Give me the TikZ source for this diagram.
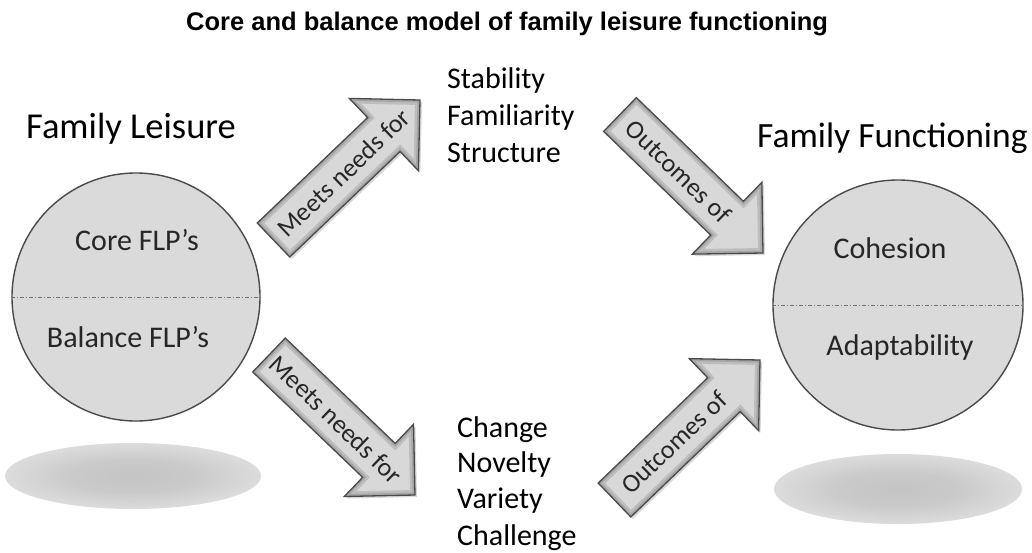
\documentclass[tikz,border=0pt]{standalone}
\usepackage{fontspec}
\setmainfont{Carlito}
\newfontfamily\titlefont{Liberation Sans}
\usetikzlibrary{calc,shadows}
\definecolor{discfill}{HTML}{DADADA}
\definecolor{arrowfill}{HTML}{D8D8D8}
\definecolor{edgecol}{HTML}{4A4A4A}
\pgfdeclareradialshading{discshade}{\pgfpoint{0bp}{0bp}}{color(0bp)=(discfill); color(42bp)=(discfill); color(47bp)=(discfill!85!black); color(50bp)=(discfill!60!black)}
\pgfdeclareradialshading{softshadow}{\pgfpoint{0bp}{0bp}}{color(0bp)=(black!23); color(12bp)=(black!21); color(28bp)=(black!12); color(40bp)=(black!3); color(50bp)=(white)}
\tikzset{
  disc/.style={circle, minimum size=#1, inner sep=0pt, shading=discshade, draw=edgecol, line width=1.4pt},
  divider/.style={draw=black!55, line width=0.7pt, dash pattern=on 4pt off 2pt on 1pt off 2pt},
  floorshadow/.style={shading=softshadow},
  arrowbody/.style={fill=arrowfill, drop shadow={opacity=0.3, shadow xshift=2pt, shadow yshift=-2pt}},
  arrowrim/.style={draw=black, opacity=0.12, line width=#1, line join=miter},
  arrowedge/.style={draw=edgecol, line width=1.3pt, line join=miter},
  bigtxt/.style={font=\fontsize{36.5}{36.5}\selectfont, inner sep=0pt},
  disctxt/.style={font=\fontsize{30}{30}\selectfont, inner sep=0pt, anchor=base, text=black!85},
  listtxt/.style={font=\fontsize{30}{30}\selectfont, inner sep=0pt, anchor=base west},
  arrtxt/.style={font=\fontsize{26}{26}\selectfont, inner sep=0pt, text=black!85, sloped, anchor=center},
}
\newcommand\arrowoutline[3]{($(#1)!23.5pt!90:(#2)$) -- ($(#3b)!23.5pt!90:(#2)$) -- ($(#3b)!50pt!90:(#2)$)
     -- (#2) -- ($(#3b)!50pt!-90:(#2)$) -- ($(#3b)!23.5pt!-90:(#2)$) -- ($(#1)!23.5pt!-90:(#2)$) -- cycle}
\newcommand\blockarrow[3]{%
  \path ($(#2)!50pt!(#1)$) coordinate (#3b);
  \path[arrowbody] \arrowoutline{#1}{#2}{#3};
  \begin{scope}
    \clip \arrowoutline{#1}{#2}{#3};
    \path[arrowrim=10pt] \arrowoutline{#1}{#2}{#3};
    \path[arrowrim=5pt] \arrowoutline{#1}{#2}{#3};
  \end{scope}
  \path[arrowedge] \arrowoutline{#1}{#2}{#3};
}
\begin{document}
\begin{tikzpicture}[x=1pt,y=-1pt]
\fill[white] (0,0) rectangle (1032,552);
\useasboundingbox (0,0) rectangle (1032,552);

% title
\node[font=\titlefont\bfseries\fontsize{25.5}{25.5}\selectfont, inner sep=0pt, anchor=base west] (title) at (186,30) {Core and balance model of family leisure functioning};

% floor shadows
\path[floorshadow] (133,476) ellipse [x radius=128pt, y radius=33pt];
\path[floorshadow] (898,489) ellipse [x radius=124pt, y radius=35pt];

% circles
\node[disc=248pt] (L) at (136,297) {};
\draw[divider] (L.west) -- (L.east);
\node[disc=250pt] (R) at (898,305) {};
\draw[divider] (R.west) -- (R.east);

\node[disctxt] (core) at (137,250) {Core FLP’s};
\node[disctxt] (bal) at (128,347) {Balance FLP’s};
\node[disctxt] (coh) at (890,258) {Cohesion};
\node[disctxt] (adp) at (900,355) {Adaptability};

% headings
\node[bigtxt, anchor=base west] (FL) at (26,138) {Family Leisure};
\node[bigtxt, anchor=base west, font=\fontsize{35.5}{35.5}\selectfont] (FF) at (757,147) {Family Functioning};

% lists
\node[listtxt] (s1) at (447,88) {Stability};
\node[listtxt] (s2) at (447,125) {Familiarity};
\node[listtxt] (s3) at (447,162) {Structure};
\node[listtxt] (c1) at (457,437) {Change};
\node[listtxt] (c2) at (457,472) {Novelty};
\node[listtxt] (c3) at (457,508) {Variety};
\node[listtxt] (c4) at (457,545) {Challenge};

% arrows
\coordinate (a1t) at (273.5,240); \coordinate (a1p) at (420,100);
\coordinate (a2t) at (620,114.5); \coordinate (a2p) at (763,253);
\coordinate (a3t) at (269,355);   \coordinate (a3p) at (415,495);
\coordinate (a4t) at (614.5,500); \coordinate (a4p) at (760,360);
\blockarrow{a1t}{a1p}{a1}
\blockarrow{a2t}{a2p}{a2}
\blockarrow{a3t}{a3p}{a3}
\blockarrow{a4t}{a4p}{a4}

\path (a1t) -- (a1p) node[arrtxt, pos=0.48] (m1) {Meets needs for};
\path (a2t) -- (a2p) node[arrtxt, pos=0.41] (o1) {Outcomes of};
\path (a3t) -- (a3p) node[arrtxt, pos=0.46] (m2) {Meets needs for};
\path (a4t) -- (a4p) node[arrtxt, pos=0.41] (o2) {Outcomes of};
\end{tikzpicture}
\end{document}
